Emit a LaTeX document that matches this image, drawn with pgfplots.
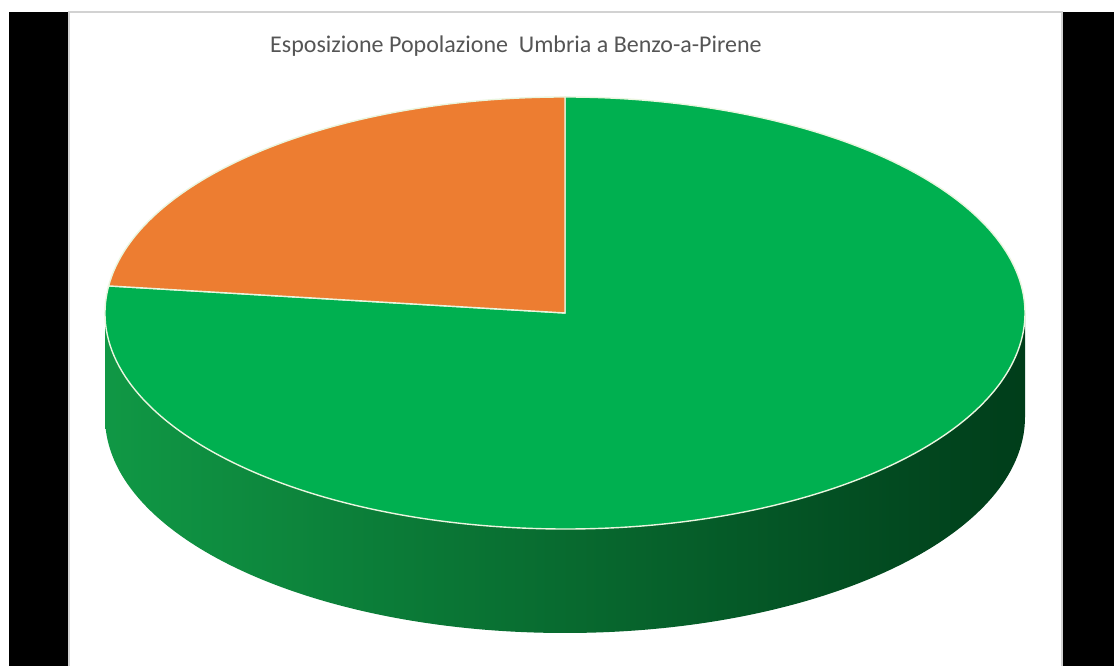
\documentclass[border=0pt]{standalone}
\usepackage{pgfplots}
\pgfplotsset{compat=1.18}
\usepackage{pgfplotstable}
\usepackage{fontspec}
\setmainfont{Carlito}

\definecolor{pgreen}{HTML}{00B050}
\definecolor{porange}{HTML}{ED7D31}
\definecolor{titlegray}{HTML}{555555}
\definecolor{sideL}{HTML}{109845}
\definecolor{sideM}{HTML}{006B2E}
\definecolor{sideR}{HTML}{003D1A}
\definecolor{edge}{HTML}{EAF6DF}

% share of the population, per cent
\pgfplotstableread{
share value
green 77
orange 23
}\piedata

\begin{document}
\begin{tikzpicture}
\pgfplotstablegetelem{0}{value}\of\piedata \let\vg\pgfplotsretval
\pgfplotstablegetelem{1}{value}\of\piedata \let\vo\pgfplotsretval
\pgfmathsetmacro\aend{90+360*\vo/(\vg+\vo)}
\begin{axis}[x=0.5pt, y=0.5pt, xmin=0, xmax=1114, ymin=0, ymax=666,
  hide axis, clip=false]
  % frame and black side bars
  \fill[white] (0,0) rectangle (1114,666);
  \draw[gray!35, line width=1pt] (69,0) -- (69,654) -- (1062,654) -- (1062,0);
  \fill[black] (9,0) rectangle (68,654);
  \fill[black] (1063,0) rectangle (1114,654);
  % title
  \node[anchor=base, text=titlegray, font=\fontsize{12}{14}\selectfont]
    at (516,613) {Esposizione Popolazione\ \ Umbria a Benzo-a-Pirene};
  % side of the pie
  \shade[left color=sideL, middle color=sideM, right color=sideR]
    (105,353) -- ++(0,-52pt)
    arc[start angle=180, end angle=360, x radius=230pt, y radius=108pt]
    -- ++(0,52pt)
    arc[start angle=0, end angle=-180, x radius=230pt, y radius=108pt] -- cycle;
  % top face
  \filldraw[fill=pgreen, draw=edge, line width=0.7pt]
    (565,353) -- ++(\aend:230pt and 108pt)
    arc[start angle=\aend, end angle=450, x radius=230pt, y radius=108pt] -- cycle;
  \filldraw[fill=porange, draw=edge, line width=0.7pt]
    (565,353) -- ++(90:230pt and 108pt)
    arc[start angle=90, end angle=\aend, x radius=230pt, y radius=108pt] -- cycle;
\end{axis}
\end{tikzpicture}
\end{document}
